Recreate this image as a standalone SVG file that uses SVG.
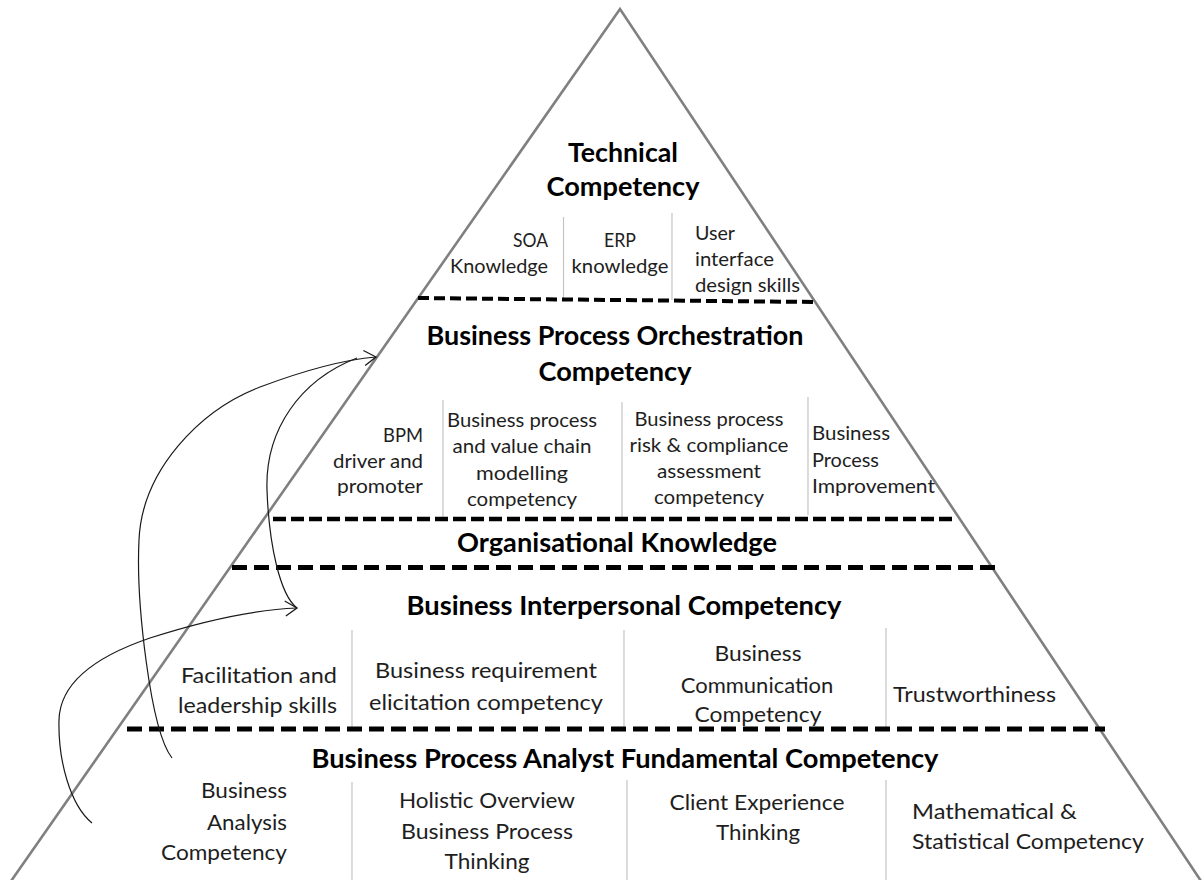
<svg xmlns="http://www.w3.org/2000/svg" width="1203" height="880" viewBox="0 0 1203 880">
  <style>
    .edge { fill: none; stroke: #808080; stroke-width: 2.6; }
    .sep { stroke: #c4c4c4; stroke-width: 1.2; }
    .d1 { stroke: #000; stroke-width: 4; stroke-dasharray: 11 5; fill: none; }
    .d2 { stroke: #000; stroke-width: 4.5; stroke-dasharray: 13 5; fill: none; }
    .d3 { stroke: #000; stroke-width: 5; stroke-dasharray: 15 7; fill: none; }
    .t { font-family: Lato, "Liberation Sans", sans-serif; font-weight: bold; font-size: 26px; fill: #000; }
    .s { font-family: Lato, "Liberation Sans", sans-serif; font-size: 20px; fill: #1e1e1e; }
    .m { font-family: Lato, "Liberation Sans", sans-serif; font-size: 22px; fill: #1e1e1e; }
    .mid { text-anchor: middle; }
    .end { text-anchor: end; }
    .conn { fill: none; stroke: #1a1a1a; stroke-width: 1.2; }
  </style>
  <defs>
    <marker id="open" markerUnits="userSpaceOnUse" markerWidth="16" markerHeight="18" refX="13" refY="8" orient="auto" overflow="visible">
      <path d="M1,0.5 L13,8 L1.5,15.5" fill="none" stroke="#1a1a1a" stroke-width="1.3"/>
    </marker>
  </defs>
  <rect width="1203" height="880" fill="#fff"/>

  <g id="pyramid">
    <polyline class="edge" points="9,884 620,9 1203,884"/>
  </g>

  <g id="technical">
    <text class="t mid" x="623" y="162" textLength="110" lengthAdjust="spacingAndGlyphs">Technical</text>
    <text class="t mid" x="623" y="196" textLength="153" lengthAdjust="spacingAndGlyphs">Competency</text>
    <line class="sep" x1="563.5" y1="217" x2="563.5" y2="298"/>
    <line class="sep" x1="672" y1="213" x2="672" y2="300"/>
    <text class="s end" x="548" y="247" textLength="35" lengthAdjust="spacingAndGlyphs">SOA</text>
    <text class="s end" x="548" y="273" textLength="98" lengthAdjust="spacingAndGlyphs">Knowledge</text>
    <text class="s mid" x="620" y="247" textLength="32" lengthAdjust="spacingAndGlyphs">ERP</text>
    <text class="s mid" x="620" y="273" textLength="97" lengthAdjust="spacingAndGlyphs">knowledge</text>
    <text class="s" x="695" y="240" textLength="40" lengthAdjust="spacingAndGlyphs">User</text>
    <text class="s" x="695" y="266" textLength="79" lengthAdjust="spacingAndGlyphs">interface</text>
    <text class="s" x="695" y="292" textLength="105" lengthAdjust="spacingAndGlyphs">design skills</text>
    <line class="d1" x1="418" y1="298" x2="815" y2="302"/>
  </g>

  <g id="orchestration">
    <text class="t mid" x="615" y="345" textLength="377" lengthAdjust="spacingAndGlyphs">Business Process Orchestration</text>
    <text class="t mid" x="615" y="381" textLength="153" lengthAdjust="spacingAndGlyphs">Competency</text>
    <line class="sep" x1="443" y1="400" x2="443" y2="517"/>
    <line class="sep" x1="622" y1="402" x2="622" y2="517"/>
    <line class="sep" x1="808" y1="397" x2="808" y2="515"/>
    <text class="s end" x="423" y="442" textLength="40" lengthAdjust="spacingAndGlyphs">BPM</text>
    <text class="s end" x="423" y="468" textLength="90" lengthAdjust="spacingAndGlyphs">driver and</text>
    <text class="s end" x="423" y="493" textLength="86" lengthAdjust="spacingAndGlyphs">promoter</text>
    <text class="s mid" x="522" y="427" textLength="150" lengthAdjust="spacingAndGlyphs">Business process</text>
    <text class="s mid" x="522" y="453" textLength="139" lengthAdjust="spacingAndGlyphs">and value chain</text>
    <text class="s mid" x="522" y="480" textLength="92" lengthAdjust="spacingAndGlyphs">modelling</text>
    <text class="s mid" x="522" y="506" textLength="110" lengthAdjust="spacingAndGlyphs">competency</text>
    <text class="s mid" x="709" y="426" textLength="149" lengthAdjust="spacingAndGlyphs">Business process</text>
    <text class="s mid" x="709" y="452" textLength="159" lengthAdjust="spacingAndGlyphs">risk &amp; compliance</text>
    <text class="s mid" x="709" y="478" textLength="104" lengthAdjust="spacingAndGlyphs">assessment</text>
    <text class="s mid" x="709" y="504" textLength="110" lengthAdjust="spacingAndGlyphs">competency</text>
    <text class="s" x="812" y="440" textLength="78" lengthAdjust="spacingAndGlyphs">Business</text>
    <text class="s" x="812" y="467" textLength="67" lengthAdjust="spacingAndGlyphs">Process</text>
    <text class="s" x="812" y="493" textLength="123" lengthAdjust="spacingAndGlyphs">Improvement</text>
    <line class="d2" x1="273" y1="519" x2="955" y2="519"/>
  </g>

  <g id="organisational">
    <text class="t mid" x="617" y="552" textLength="320" lengthAdjust="spacingAndGlyphs">Organisational Knowledge</text>
    <line class="d3" x1="232" y1="567.5" x2="995" y2="567.5"/>
  </g>

  <g id="interpersonal">
    <text class="t mid" x="624" y="615" textLength="435" lengthAdjust="spacingAndGlyphs">Business Interpersonal Competency</text>
    <line class="sep" x1="352" y1="630" x2="352" y2="728"/>
    <line class="sep" x1="624" y1="630" x2="624" y2="728"/>
    <line class="sep" x1="886" y1="628" x2="886" y2="728"/>
    <text class="m end" x="337" y="683" textLength="156" lengthAdjust="spacingAndGlyphs">Facilitation and</text>
    <text class="m end" x="337" y="713" textLength="159" lengthAdjust="spacingAndGlyphs">leadership skills</text>
    <text class="m mid" x="486" y="678" textLength="222" lengthAdjust="spacingAndGlyphs">Business requirement</text>
    <text class="m mid" x="486" y="710" textLength="234" lengthAdjust="spacingAndGlyphs">elicitation competency</text>
    <text class="m mid" x="758" y="661" textLength="87" lengthAdjust="spacingAndGlyphs">Business</text>
    <text class="m mid" x="757" y="693">Communication</text>
    <text class="m mid" x="758" y="722" textLength="127" lengthAdjust="spacingAndGlyphs">Competency</text>
    <text class="m" x="893" y="702" textLength="163" lengthAdjust="spacingAndGlyphs">Trustworthiness</text>
    <line class="d3" x1="127" y1="729" x2="1105" y2="729"/>
  </g>

  <g id="fundamental">
    <text class="t mid" x="625" y="768" textLength="627" lengthAdjust="spacingAndGlyphs">Business Process Analyst Fundamental Competency</text>
    <line class="sep" x1="352" y1="782" x2="352" y2="880"/>
    <line class="sep" x1="627" y1="780" x2="627" y2="880"/>
    <line class="sep" x1="886" y1="780" x2="886" y2="880"/>
    <text class="m end" x="287" y="798" textLength="86" lengthAdjust="spacingAndGlyphs">Business</text>
    <text class="m end" x="287" y="830" textLength="80" lengthAdjust="spacingAndGlyphs">Analysis</text>
    <text class="m end" x="287" y="860" textLength="126" lengthAdjust="spacingAndGlyphs">Competency</text>
    <text class="m mid" x="487" y="808" textLength="176" lengthAdjust="spacingAndGlyphs">Holistic Overview</text>
    <text class="m mid" x="487" y="839" textLength="172" lengthAdjust="spacingAndGlyphs">Business Process</text>
    <text class="m mid" x="487" y="869" textLength="85" lengthAdjust="spacingAndGlyphs">Thinking</text>
    <text class="m mid" x="757" y="810" textLength="175" lengthAdjust="spacingAndGlyphs">Client Experience</text>
    <text class="m mid" x="758" y="840" textLength="84" lengthAdjust="spacingAndGlyphs">Thinking</text>
    <text class="m" x="912" y="819" textLength="165" lengthAdjust="spacingAndGlyphs">Mathematical &amp;</text>
    <text class="m" x="912" y="849" textLength="232" lengthAdjust="spacingAndGlyphs">Statistical Competency</text>
  </g>

  <g id="connectors">
    <path class="conn" d="M92,823 C70,805 58,760 59,720 C60,680 100,655 150,638 C200,622 250,610 297,608" marker-end="url(#open)"/>
    <path class="conn" d="M172,758 C150,730 136,600 139,540 C142,470 200,410 260,387 C300,372 340,360 376,357" marker-end="url(#open)"/>
    <path class="conn" d="M357,358 C300,380 265,430 267,490 C269,545 280,595 297,608"/>
  </g>
</svg>
